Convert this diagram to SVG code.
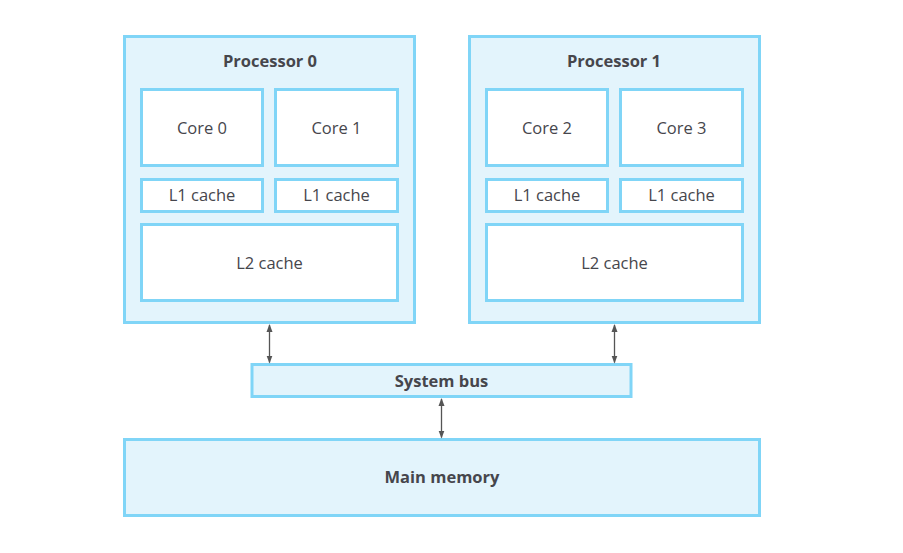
<svg xmlns="http://www.w3.org/2000/svg" width="903" height="553" viewBox="0 0 903 553">
<style>
.outer{fill:#e3f4fc;stroke:#80d5f7;stroke-width:3}
.inner{fill:#ffffff;stroke:#80d5f7;stroke-width:3}
.t{font-family:"Open Sans","Liberation Sans",sans-serif;font-size:16.5px;fill:#46464c;text-anchor:middle}
.b{font-weight:bold}
.c{stroke:#555555;stroke-width:1.3;fill:none;marker-start:url(#ah);marker-end:url(#ah)}
</style>
<defs>
<marker id="ah" viewBox="0 0 8 8" refX="7" refY="4" markerWidth="8" markerHeight="8" markerUnits="userSpaceOnUse" orient="auto-start-reverse">
<path d="M0,1 L8,4 L0,7 Z" fill="#555555"/>
</marker>
</defs>
<rect width="903" height="553" fill="#ffffff"/>
<g id="processor0">
<rect class="outer" x="124.5" y="36.5" width="290" height="286"/>
<text class="t b" x="270" y="66.5">Processor 0</text>
</g>
<g id="core0"><rect class="inner" x="141.5" y="89.5" width="121" height="76"/><text class="t" x="202" y="133.5">Core 0</text></g>
<g id="core1"><rect class="inner" x="275.5" y="89.5" width="122" height="76"/><text class="t" x="336.5" y="133.5">Core 1</text></g>
<g id="l1a"><rect class="inner" x="141.5" y="179.5" width="121" height="32"/><text class="t" x="202" y="201">L1 cache</text></g>
<g id="l1b"><rect class="inner" x="275.5" y="179.5" width="122" height="32"/><text class="t" x="336.5" y="201">L1 cache</text></g>
<g id="l2a"><rect class="inner" x="141.5" y="224.5" width="256" height="76"/><text class="t" x="269.5" y="268.5">L2 cache</text></g>
<g id="processor1">
<rect class="outer" x="469.5" y="36.5" width="290" height="286"/>
<text class="t b" x="614" y="66.5">Processor 1</text>
</g>
<g id="core2"><rect class="inner" x="486.5" y="89.5" width="121" height="76"/><text class="t" x="547" y="133.5">Core 2</text></g>
<g id="core3"><rect class="inner" x="620.5" y="89.5" width="122" height="76"/><text class="t" x="681.5" y="133.5">Core 3</text></g>
<g id="l1c"><rect class="inner" x="486.5" y="179.5" width="121" height="32"/><text class="t" x="547" y="201">L1 cache</text></g>
<g id="l1d"><rect class="inner" x="620.5" y="179.5" width="122" height="32"/><text class="t" x="681.5" y="201">L1 cache</text></g>
<g id="l2b"><rect class="inner" x="486.5" y="224.5" width="256" height="76"/><text class="t" x="614.5" y="268.5">L2 cache</text></g>
<g id="systembus"><rect class="outer" x="252" y="364.5" width="379" height="32"/><text class="t b" x="441.5" y="386.5">System bus</text></g>
<g id="mainmemory"><rect class="outer" x="124.5" y="439.5" width="635" height="76"/><text class="t b" x="442" y="483">Main memory</text></g>
<g id="connectors">
<line class="c" x1="269.5" y1="325" x2="269.5" y2="362.5"/>
<line class="c" x1="614.5" y1="325" x2="614.5" y2="362.5"/>
<line class="c" x1="441.5" y1="399" x2="441.5" y2="437.5"/>
</g>
</svg>
